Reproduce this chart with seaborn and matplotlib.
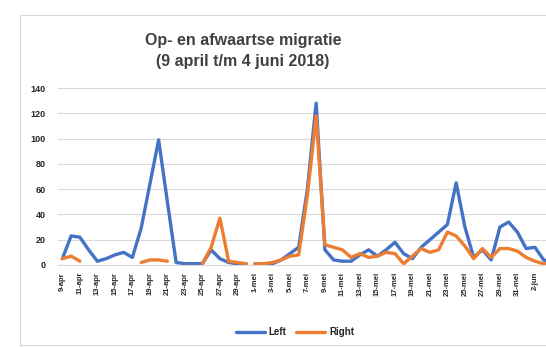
import numpy as np
import pandas as pd
import matplotlib
matplotlib.use("Agg")
import matplotlib.pyplot as plt
import seaborn as sns
from matplotlib.patches import Rectangle

# Daily counts, 9 April through 4 June 2018
start, end = "2018-04-09", "2018-06-04"
maanden = {4: "apr", 5: "mei", 6: "jun"}

left = [5, 23, 22, 12, 3, 5, 8, 10, 6, 29,
        64, 99, 50, 2, 1, 1, 1, 12, 5, 2,
        1, 1, 1, 1, 1, 4, 9, 14, 60, 128,
        12, 4, 3, 3, 8, 12, 7, 12, 18, 9,
        5, 14, 20, 26, 32, 65, 30, 6, 12, 4,
        30, 34, 26, 13, 14, 4, 2]

right = [5, 7, 3, np.nan, np.nan, np.nan, np.nan, np.nan, np.nan, 2,
         4, 4, 3, np.nan, np.nan, np.nan, 1, 14, 37, 3,
         2, 1, 1, 1, 2, 4, 7, 8, 55, 118,
         16, 14, 12, 6, 9, 6, 7, 10, 9, 1,
         7, 13, 10, 12, 26, 23, 15, 5, 13, 6,
         13, 13, 11, 6, 3, 1, 1]

reeksen = ["Left", "Right"]
kleuren = {"Left": "#4472C4", "Right": "#ED7D31"}
y_ticks = [0, 20, 40, 60, 80, 100, 120, 140]

datums = pd.date_range(start, end, freq="D")
labels = [f"{d.day}-{maanden[d.month]}" for d in datums]

df = pd.DataFrame({"dag": np.arange(len(datums)),
                   "periode": (datums.month > 4).astype(int),
                   "Left": left, "Right": right})
lang = (df.melt(id_vars=["dag", "periode"], value_vars=reeksen,
                var_name="reeks", value_name="aantal")
          .dropna()
          .sort_values(["reeks", "dag"]))
# a new line piece starts after a missing day and where April ends
g = lang.groupby("reeks")
nieuw = (g["dag"].diff() != 1) | (g["periode"].diff() != 0)
lang["stuk"] = nieuw.cumsum()

sns.set_theme(style="white")
plt.rcParams["font.family"] = ["Liberation Sans", "DejaVu Sans"]

fig = plt.figure(figsize=(5.46, 3.48), dpi=100)
fig.patches.append(Rectangle((20 / 546, 3 / 348), 0.99, 1 - 18 / 348,
                             transform=fig.transFigure, fill=False,
                             edgecolor="#d9d9d9", linewidth=0.8))

# plot area runs on past the right edge of the figure
ax = fig.add_axes([58 / 546, 83 / 348, 498.8 / 546, 177 / 348])
sns.lineplot(data=lang, x="dag", y="aantal", hue="reeks", hue_order=reeksen,
             units="stuk", estimator=None, palette=kleuren,
             linewidth=2.4, ax=ax)

ax.set_xlim(-0.5, len(datums) - 0.5)
ax.set_ylim(0, 140)
ax.set_yticks(y_ticks)
ax.set_yticklabels([str(v) for v in y_ticks], fontsize=6.5,
                   fontweight="bold", color="#262626")
# date labels every second day, as far as the figure reaches
pos = np.arange(0, len(datums) - 2, 2)
ax.set_xticks(pos)
ax.set_xticklabels([labels[i] for i in pos], rotation=90, fontsize=5.5,
                   fontweight="bold", color="#262626")
ax.tick_params(axis="x", length=0, pad=5)
ax.tick_params(axis="y", length=0, pad=9)
ax.set_xlabel("")
ax.set_ylabel("")
ax.grid(axis="y", color="#d9d9d9", linewidth=0.8)
ax.set_axisbelow(True)
for s in ["top", "right", "left"]:
    ax.spines[s].set_visible(False)
ax.spines["bottom"].set_color("#d9d9d9")
ax.spines["bottom"].set_linewidth(0.8)

h, l = ax.get_legend_handles_labels()
ax.legend(h, l, loc="center", bbox_to_anchor=(295 / 546, 1 - 332 / 348),
          bbox_transform=fig.transFigure, ncol=2, frameon=False,
          handlelength=3.0, columnspacing=1.0, handletextpad=0.4,
          prop={"weight": "bold", "size": 7})

fig.text(243 / 546, 1 - 51 / 348, "Op- en afwaartse migratie\n(9 april t/m 4 juni 2018)",
         ha="center", va="center", fontsize=11.5, fontweight="bold",
         color="#404040", linespacing=1.45)

fig.savefig("out.png", dpi=100)
